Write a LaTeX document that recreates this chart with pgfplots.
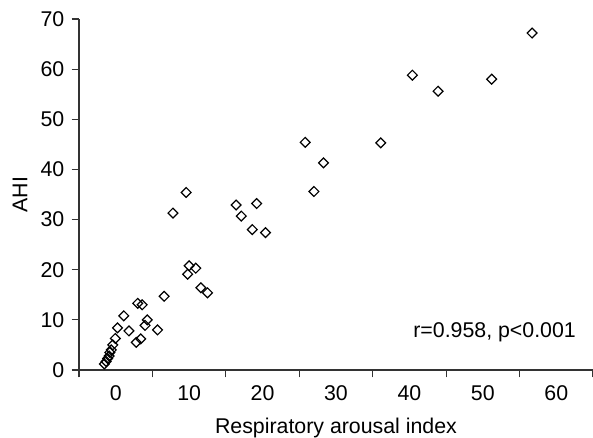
\documentclass[border=0pt]{standalone}
\usepackage{pgfplots}
\pgfplotsset{compat=1.18}
\usepackage{fontspec}
\setmainfont{Liberation Sans}
\begin{document}
\begin{tikzpicture}[x=1pt,y=1pt]
\path[use as bounding box] (0,0) rectangle (444.75,328.5);
\begin{axis}[
  at={(59.25pt,51pt)}, anchor=south west,
  scale only axis,
  width=385.5pt, height=263.25pt,
  xmin=-5, xmax=65, ymin=0, ymax=70,
  axis lines*=left,
  axis line style={line width=0.8pt, black!80},
  tick style={line width=0.8pt, black!80},
  tick align=outside,
  xtick={-5,5,...,65}, xticklabels={},
  extra x ticks={0,10,...,60},
  extra x tick labels={0,10,20,30,40,50,60},
  extra x tick style={major tick length=0pt},
  x tick label style={yshift=-8.5pt},
  y tick label style={xshift=-2pt},
  ytick={0,10,...,70},
  major tick length=5.5pt,
  ticklabel style={font=\fontsize{16}{18}\selectfont},
  /pgf/number format/assume math mode=true,
  label style={font=\fontsize{16}{18}\selectfont},
  xlabel={Respiratory arousal index},
  ylabel={AHI},
  xlabel style={at={(axis description cs:0.5,-0.182)}, anchor=base},
  ylabel style={at={(axis description cs:-0.1148,0.5)}, anchor=center},
  clip=false,
]
\addplot[only marks, mark=square, mark size=2.6pt,
  mark options={rotate=45, line width=0.9pt, black, fill=white}]
coordinates {
(56.7,67.2) (40.4,58.8) (43.9,55.6) (51.2,58.0)
(25.8,45.4) (36.1,45.3) (28.3,41.3) (27.0,35.6)
(19.2,33.2) (18.6,28.0) (20.4,27.4) (16.4,32.9) (17.1,30.7)
(9.6,35.4) (7.8,31.3)
(10.0,20.8) (10.9,20.3) (9.8,19.1) (11.6,16.4) (12.5,15.4) (6.6,14.7)
(3.0,13.3) (3.6,13.0) (1.1,10.8) (4.3,10.0) (4.0,8.9) (0.25,8.4)
(1.8,7.8) (5.7,8.0) (2.8,5.5) (3.4,6.2) (-0.05,6.3) (-0.4,5.0)
(-0.6,4.0) (-0.8,3.5) (-0.9,2.8) (-1.1,2.3) (-1.3,1.7) (-1.55,1.2)
};
\node[font=\fontsize{16}{18}\selectfont] at (axis cs:51.6,7.6) {r=0.958, p<0.001};
\end{axis}
\end{tikzpicture}
\end{document}
